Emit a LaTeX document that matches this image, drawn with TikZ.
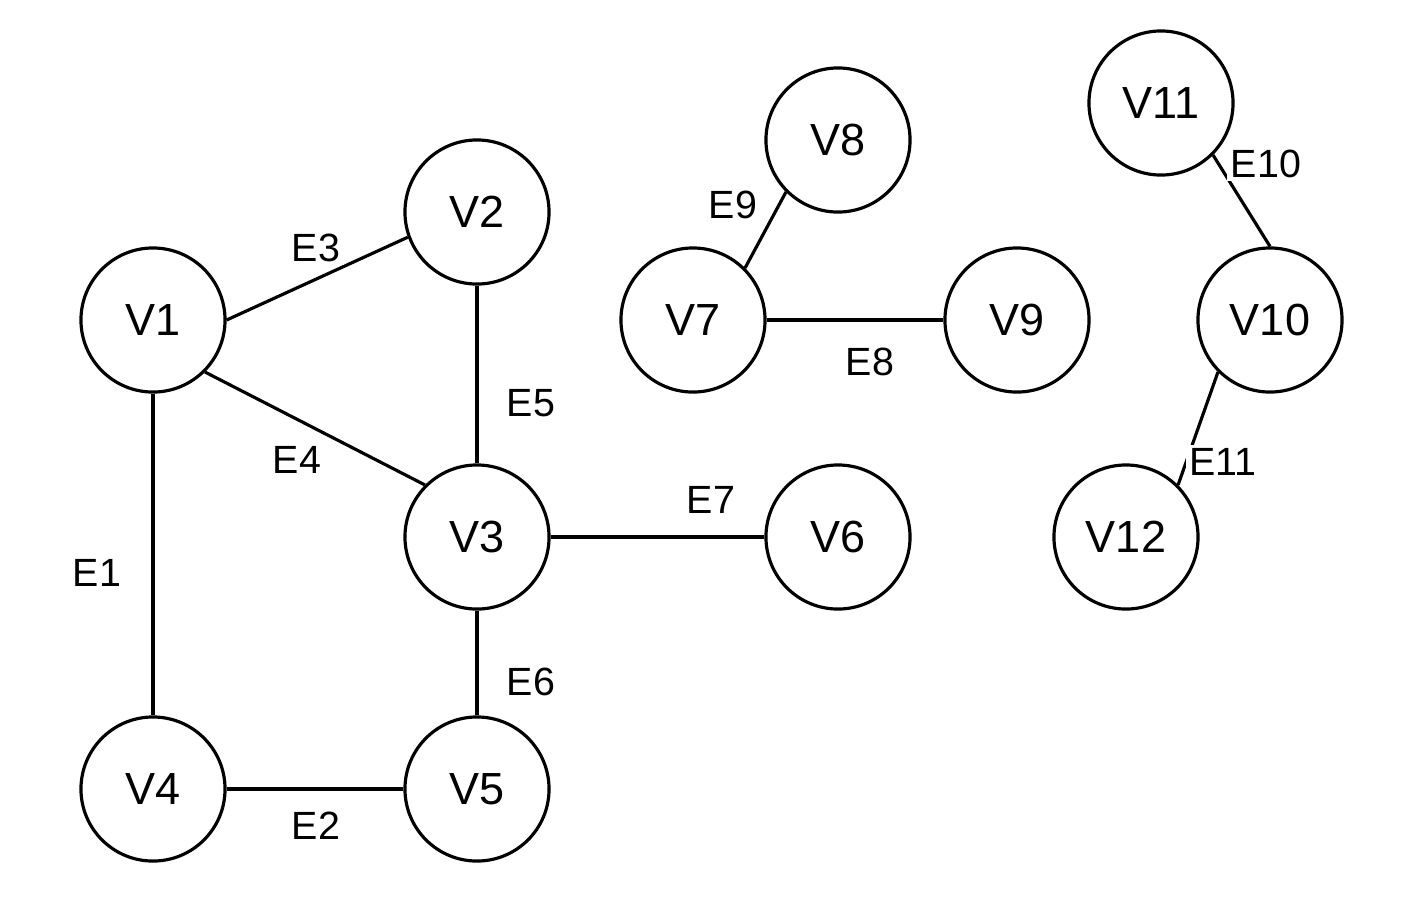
\documentclass[tikz,border=0pt]{standalone}
\usepackage{fontspec}
\setmainfont{Liberation Sans}
\usepackage{tikz}
\usetikzlibrary{positioning}

\begin{document}
\begin{tikzpicture}[
            x=0.01cm,y=-0.01cm,
            line width=0.9pt
        ]
            \useasboundingbox (0,0) rectangle (1418,902);

            \begin{scope}[
                every node/.style={circle,draw,line width=0.9pt,minimum size=1.44cm,inner sep=0pt,font=\fontsize{12.8pt}{15pt}\selectfont}
            ]
                \node (V1)  at (153,320)  {V1};
                \node (V2)  at (477,212)  {V2};
                \node (V3)  at (477,537)  {V3};
                \node (V4)  at (153,789)  {V4};
                \node (V5)  at (477,789)  {V5};
                \node (V6)  at (838,537)  {V6};
                \node (V7)  at (693,320)  {V7};
                \node (V8)  at (838,140)  {V8};
                \node (V9)  at (1017,320) {V9};
                \node (V10) at (1270,320) {V10};
                \node (V11) at (1161,103) {V11};
                \node (V12) at (1126,537) {V12};
            \end{scope}

            \draw (V1.south)  -- (V4.north);
            \draw (V4.east)   -- (V5.west);
            \draw (V1.east)   -- (V2.200);
            \draw (V1.-45)    -- (V3.135);
            \draw (V2.south)  -- (V3.north);
            \draw (V3.south)  -- (V5.north);
            \draw (V3.east)   -- (V6.west);
            \draw (V7.east)   -- (V9.west);
            \draw (V7.45)     -- (V8.225);
            \draw (V11.-45)   -- (V10.north);
            \draw (V10.225)   -- (V12.45);

            \begin{scope}[
                every node/.style={fill=white,inner sep=1pt,font=\fontsize{11.2pt}{13pt}\selectfont}
            ]
                \node (E1)  at (97,573)   {E1};
                \node (E2)  at (316,826)  {E2};
                \node (E3)  at (316,248)  {E3};
                \node (E4)  at (297,460)  {E4};
                \node (E5)  at (531,403)  {E5};
                \node (E6)  at (531,682)  {E6};
                \node (E7)  at (711,500)  {E7};
                \node (E8)  at (870,362)  {E8};
                \node (E9)  at (733,205)  {E9};
                \node (E10) at (1266,164) {E10};
                \node (E11) at (1223,462) {E11};
            \end{scope}
        \end{tikzpicture}
\end{document}
